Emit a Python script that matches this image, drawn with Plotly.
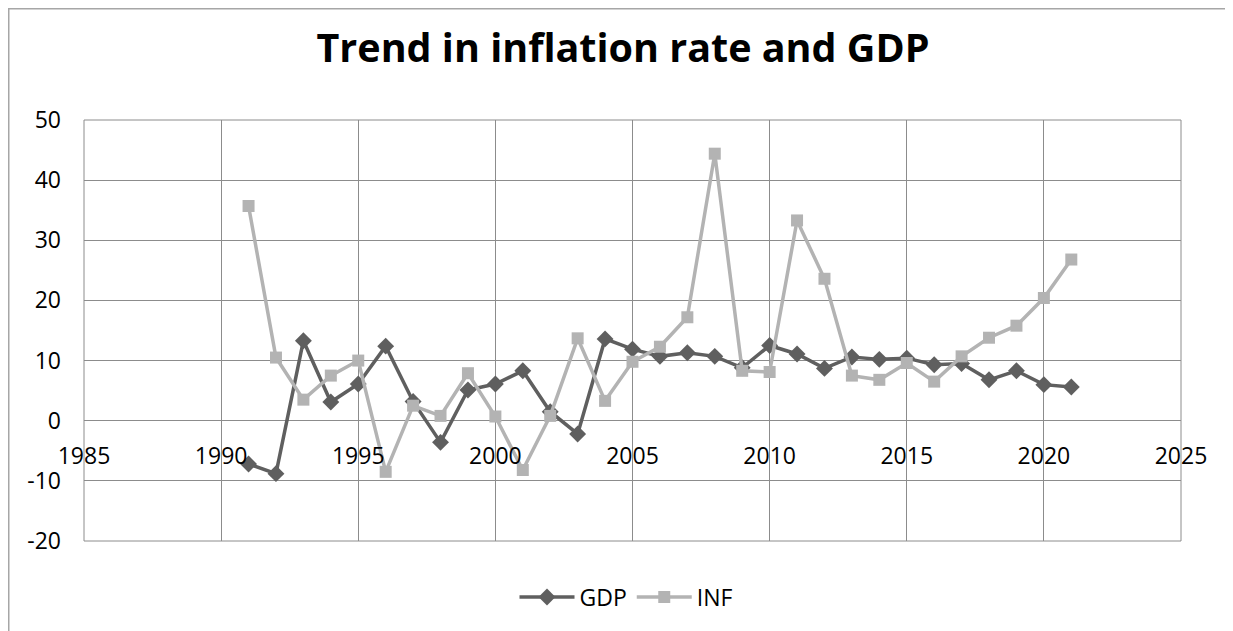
import plotly.graph_objects as go

years = list(range(1991, 2022))
gdp = [-7.2, -8.8, 13.3, 3.1, 6.1, 12.4, 3.2, -3.6, 5.1, 6.1,
       8.3, 1.5, -2.2, 13.6, 11.9, 10.7, 11.3, 10.7, 8.8, 12.5,
       11.1, 8.7, 10.6, 10.2, 10.4, 9.3, 9.5, 6.8, 8.3, 6.0, 5.6]
inf = [35.7, 10.5, 3.5, 7.5, 10.0, -8.5, 2.5, 0.8, 7.9, 0.7,
       -8.2, 0.8, 13.7, 3.3, 9.8, 12.3, 17.2, 44.4, 8.3, 8.1,
       33.3, 23.6, 7.5, 6.8, 9.6, 6.5, 10.7, 13.8, 15.8, 20.4, 26.8]
x_ticks = [1985, 1990, 1995, 2000, 2005, 2010, 2015, 2020, 2025]
y_ticks = [-20, -10, 0, 10, 20, 30, 40, 50]
y_tick_text = ["-20", "-10", "0", "10", "20", "30", "40", "50"]

W, H = 1233, 631
OFF = 8  # page body margin
L, R, T, B = 84 - OFF, 1181 - OFF, 120 - OFF, 541 - OFF

fig = go.Figure()
fig.add_trace(go.Scatter(x=years, y=gdp, name="GDP", mode="lines+markers",
                         line=dict(color="#5f5f5f", width=3.5),
                         marker=dict(symbol="diamond", size=13, color="#5f5f5f")))
fig.add_trace(go.Scatter(x=years, y=inf, name="INF", mode="lines+markers",
                         line=dict(color="#b3b3b3", width=3.5),
                         marker=dict(symbol="square", size=12, color="#b3b3b3")))

font = "Open Sans, Noto Sans, Liberation Sans, sans-serif"
grid = "#8c8c8c"
fig.update_layout(
    width=W, height=H,
    margin=dict(l=L, r=W - R, t=T, b=H - B, pad=0),
    paper_bgcolor="white", plot_bgcolor="white",
    font=dict(family=font, size=23, color="black"),
    title=dict(text="<b>Trend in inflation rate and GDP</b>", x=(623 - OFF - L) / (R - L),
               xanchor="center", xref="paper",
               y=1 - (48 - OFF) / H, yanchor="middle", font=dict(size=39.5, family=font, color="black")),
    showlegend=True,
    legend=dict(orientation="h", x=(626 - OFF - L) / (R - L), xanchor="center",
                y=(B - (597 - OFF)) / (B - T), yanchor="middle", itemwidth=55,
                font=dict(size=23), bgcolor="rgba(0,0,0,0)"),
    xaxis=dict(range=[1985, 2025], tickvals=x_ticks, showgrid=True, gridcolor=grid, gridwidth=1,
               zeroline=False, showline=False, ticks="outside", ticklen=0, tickcolor="white",
               anchor="free", position=20 / 70, ticklabelstandoff=15,
               tickfont=dict(size=23)),
    yaxis=dict(range=[-20, 50], tickvals=y_ticks, ticktext=y_tick_text, showgrid=True,
               gridcolor=grid, gridwidth=1,
               zeroline=False, showline=False, ticks="", ticklabelstandoff=22,
               tickfont=dict(size=23)),
)
# plot-area box (edge gridlines)
fig.add_shape(type="rect", xref="paper", yref="paper", x0=0, x1=1, y0=0, y1=1,
              line=dict(color=grid, width=1), fillcolor="rgba(0,0,0,0)", layer="below")
# outer chart frame (partially cropped in the reference)
fig.add_shape(type="rect", xref="paper", yref="paper",
              x0=(0.75 - L) / (R - L), x1=(1300 - L) / (R - L),
              y0=(B - 700) / (B - T), y1=(B - 0.75) / (B - T),
              line=dict(color="#a6a6a6", width=1.5), fillcolor="rgba(0,0,0,0)", layer="below")
fig.write_html("out.html")
